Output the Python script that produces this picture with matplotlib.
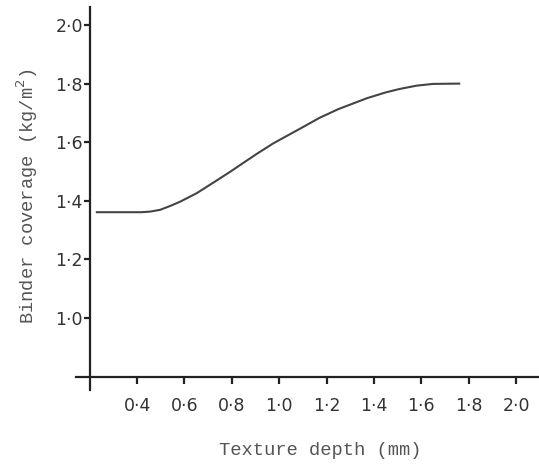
import matplotlib.pyplot as plt

# texture depth (mm) vs binder coverage (kg/m2)
depth = [0.23, 0.35, 0.42, 0.455, 0.497, 0.539, 0.582, 0.652, 0.722, 0.793,
         0.835, 0.905, 0.975, 1.09, 1.17, 1.25, 1.37, 1.45, 1.51, 1.58, 1.65, 1.76]
coverage = [1.361, 1.361, 1.361, 1.363, 1.369, 1.382, 1.397, 1.426, 1.462, 1.499,
            1.522, 1.560, 1.596, 1.647, 1.683, 1.713, 1.750, 1.770, 1.782, 1.793,
            1.799, 1.800]

xticks = [0.4, 0.6, 0.8, 1.0, 1.2, 1.4, 1.6, 1.8, 2.0]
yticks = [1.0, 1.2, 1.4, 1.6, 1.8, 2.0]

fig = plt.figure(figsize=(5.39, 4.68), dpi=100)
ax = fig.add_axes([0.141, 0.1667, 0.859, 0.818])

ax.plot(depth, coverage, color='#444444', lw=1.5, solid_joinstyle='round')

ax.set_xlim(0.142, 2.097)
ax.set_ylim(0.754, 2.061)

# spines cross each other like in the old figure
ax.spines['left'].set_position(('data', 0.2))
ax.spines['bottom'].set_position(('data', 0.8))
ax.spines['right'].set_visible(False)
ax.spines['top'].set_visible(False)
for s in ['left', 'bottom']:
    ax.spines[s].set_color('#222222')
    ax.spines[s].set_linewidth(1.6)

ax.set_xticks(xticks)
ax.set_xticklabels([('%.1f' % v).replace('.', '\u00b7') for v in xticks])
ax.set_yticks(yticks)
ax.set_yticklabels([('%.1f' % v).replace('.', '\u00b7') for v in yticks])
ax.tick_params(axis='x', direction='out', length=5, width=1.6, color='#222222',
               labelsize=12.5, labelcolor='#333333', pad=10)
ax.tick_params(axis='y', direction='out', length=4, width=1.6, color='#222222',
               labelsize=12.5, labelcolor='#333333', pad=1)

fig.text(0.594, 0.038, 'Texture depth (mm)', ha='center', va='center',
         family='Liberation Mono', fontsize=13.5, color='#555555')
fig.text(0.05, 0.58, 'Binder coverage (kg/m$^2$)', ha='center', va='center',
         rotation=90, family='Liberation Mono', fontsize=13.5, color='#555555')

fig.savefig('out.png', dpi=100)
